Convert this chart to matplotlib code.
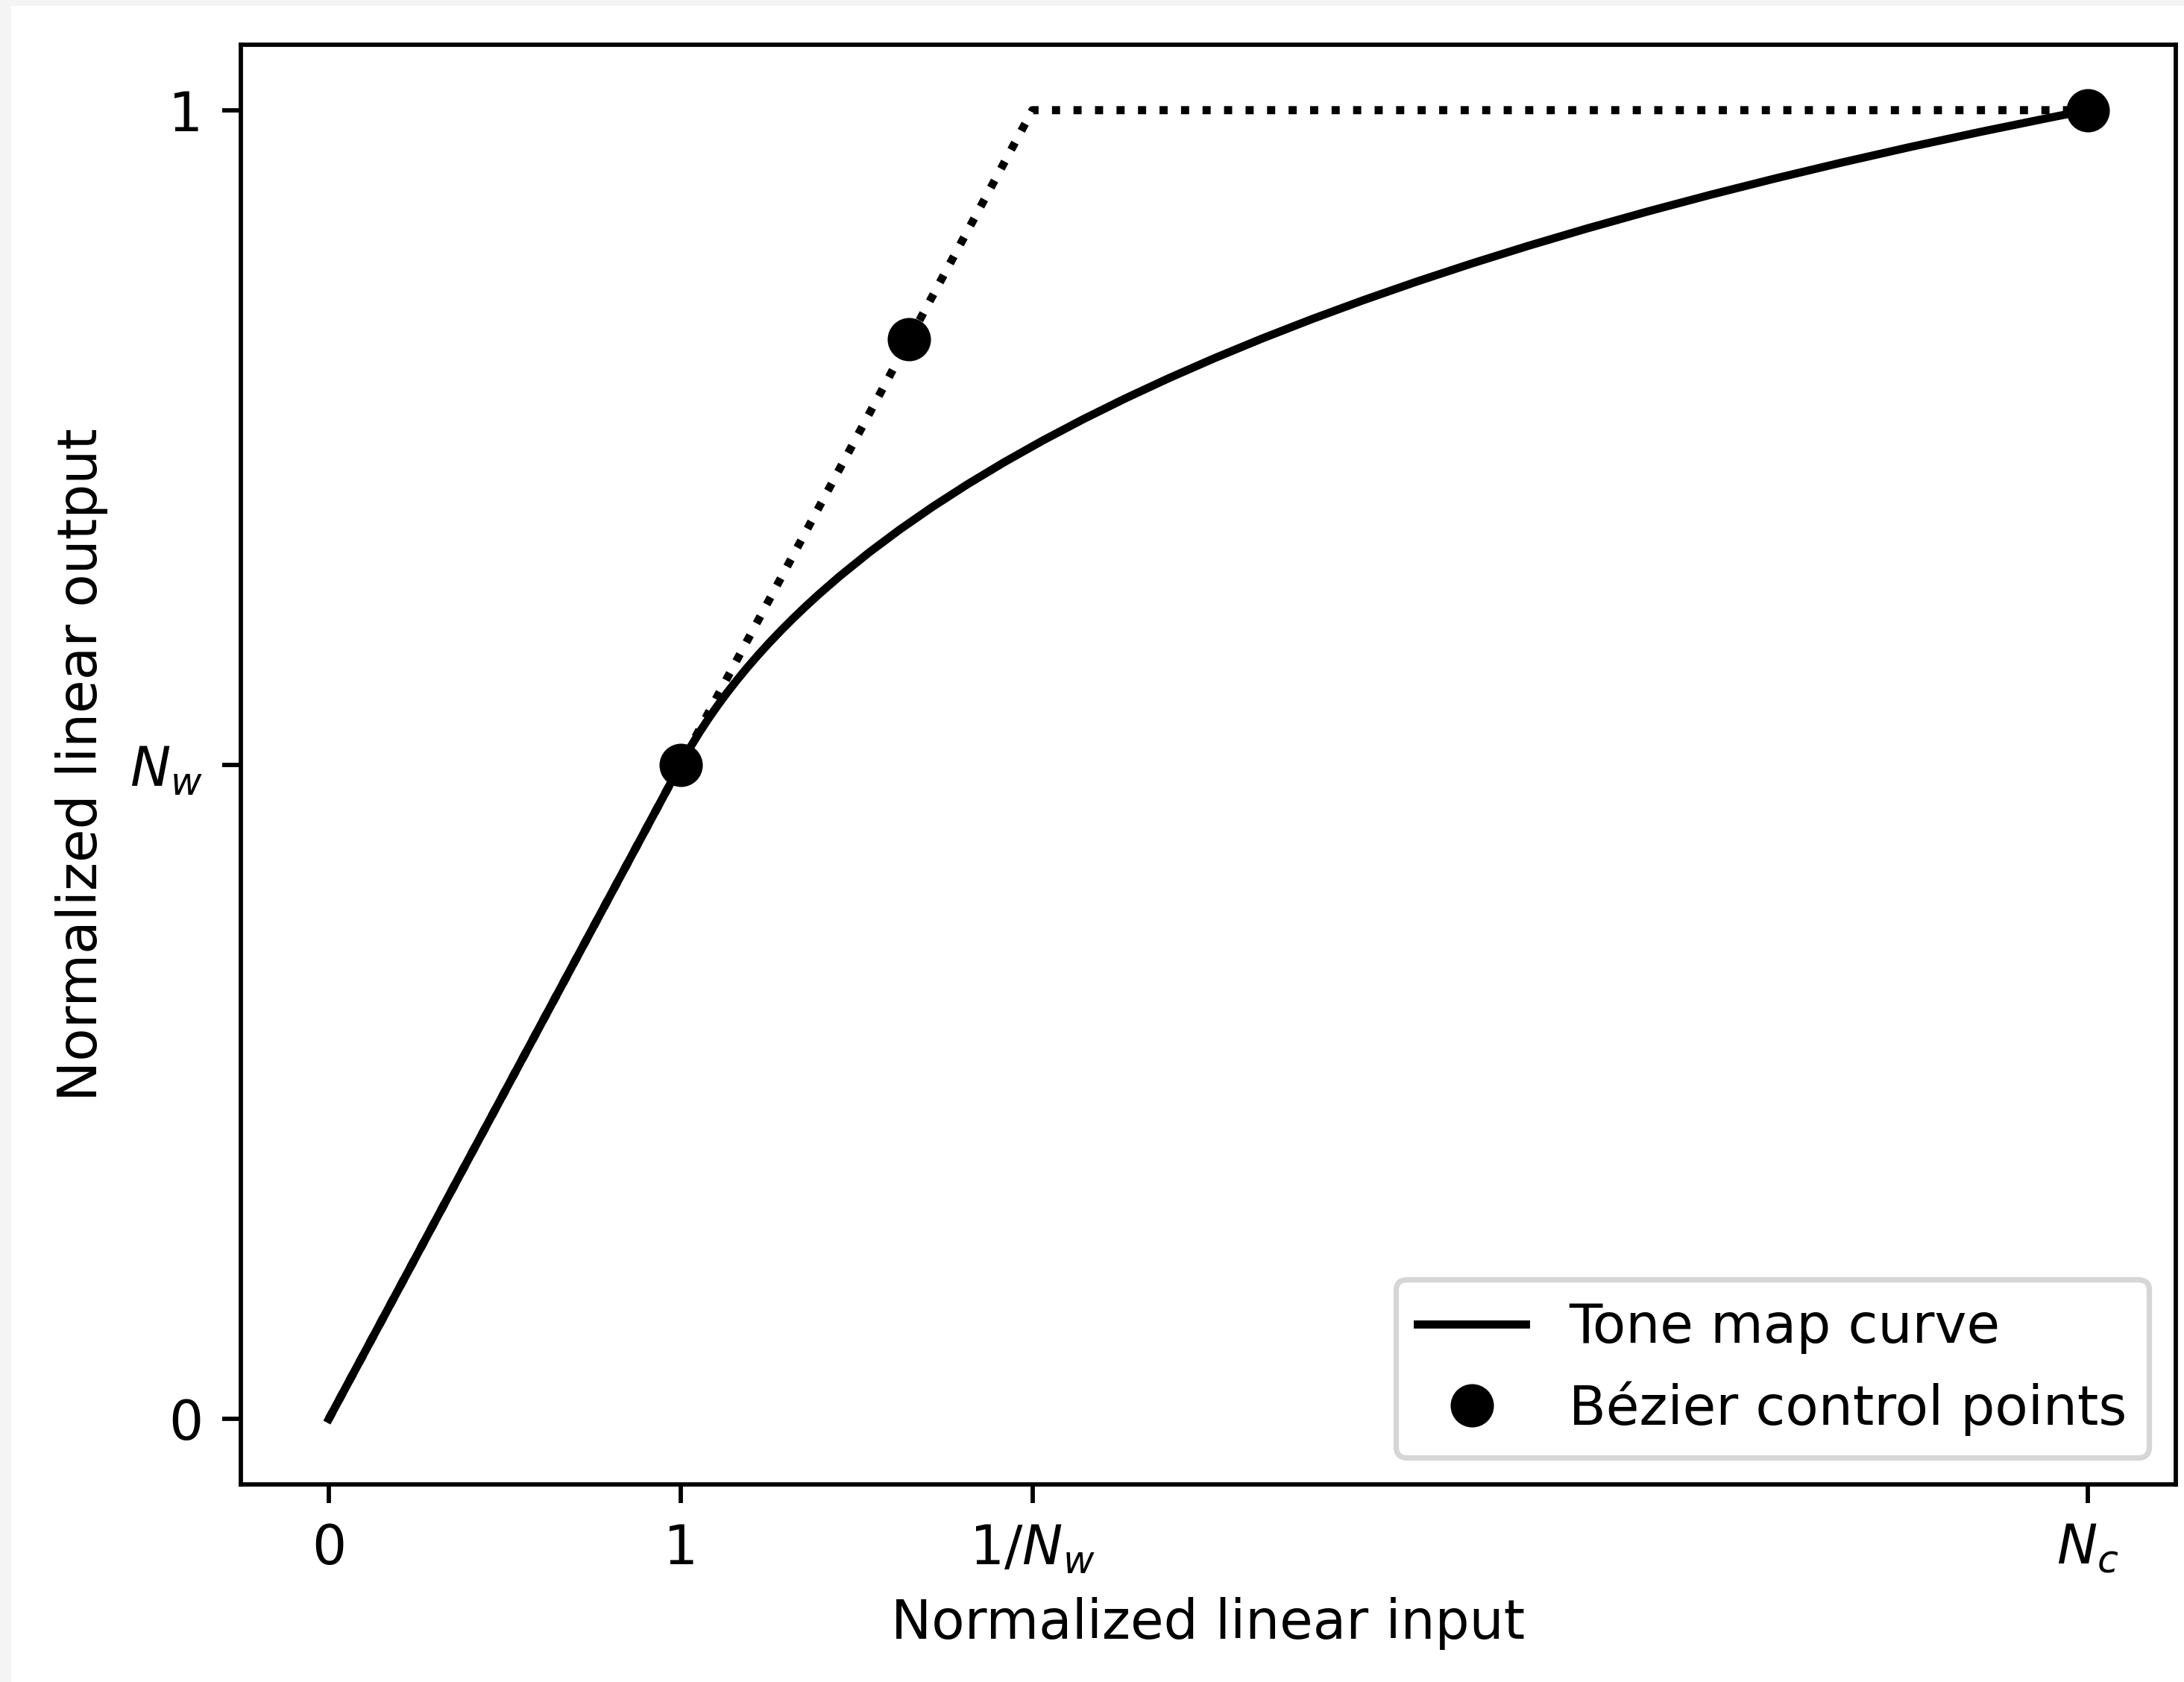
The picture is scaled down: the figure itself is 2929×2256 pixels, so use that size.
import matplotlib
matplotlib.use("Agg")
import matplotlib.pyplot as plt
import matplotlib.path as mpath
import matplotlib.patches as mpatches
from matplotlib.lines import Line2D

# Parameters of the tone map
N_w = 0.5
N_c = 5.0

# Linear part of the curve, then quadratic Bezier control points
linear_x = [0.0, 1.0]
linear_y = [0.0, N_w]
ctrl_x = [1.0, 1.65, N_c]
ctrl_y = [N_w, 0.825, 1.0]

# Hard clip reference line (dotted)
clip_x = [0.0, 1.0 / N_w, N_c]
clip_y = [0.0, 1.0, 1.0]

xtick_pos = [0, 1, 1.0 / N_w, N_c]
xtick_lab = ["0", "1", "$1/N_w$", "$N_c$"]
ytick_pos = [0, N_w, 1]
ytick_lab = ["0", "$N_w$", "1"]

dpi = 522.5
fig = plt.figure(figsize=(2929 / dpi, 2256 / dpi), dpi=dpi)

# light grey page border seen at the left/top of the reference
fig.patches.append(mpatches.Rectangle((0, 0), 15 / 2929, 1, transform=fig.transFigure,
                                      facecolor="#f4f4f4", edgecolor="none", zorder=-10))
fig.patches.append(mpatches.Rectangle((0, 1 - 8 / 2256), 1, 8 / 2256, transform=fig.transFigure,
                                      facecolor="#f4f4f4", edgecolor="none", zorder=-10))

ax = fig.add_axes([323 / 2929, 1 - 1991 / 2256, (2918 - 323) / 2929, (1991 - 60) / 2256])

ax.plot(clip_x, clip_y, "k:")
ax.plot(linear_x, linear_y, "k-")

verts = list(zip(ctrl_x, ctrl_y))
codes = [mpath.Path.MOVETO, mpath.Path.CURVE3, mpath.Path.CURVE3]
bez = mpatches.PathPatch(mpath.Path(verts, codes), facecolor="none", edgecolor="k", lw=1.5)
ax.add_patch(bez)

ax.plot(ctrl_x, ctrl_y, "ko", ms=7)

ax.set_xticks(xtick_pos)
ax.set_xticklabels(xtick_lab)
ax.set_yticks(ytick_pos)
ax.set_yticklabels(ytick_lab)
ax.set_xlabel("Normalized linear input")
ax.set_ylabel("Normalized linear output")

handles = [Line2D([], [], color="k", lw=1.5),
           Line2D([], [], color="k", marker="o", ms=7, ls="none")]
ax.legend(handles, ["Tone map curve", "Bézier control points"], loc="lower right")

fig.savefig("out.png", dpi=dpi)
